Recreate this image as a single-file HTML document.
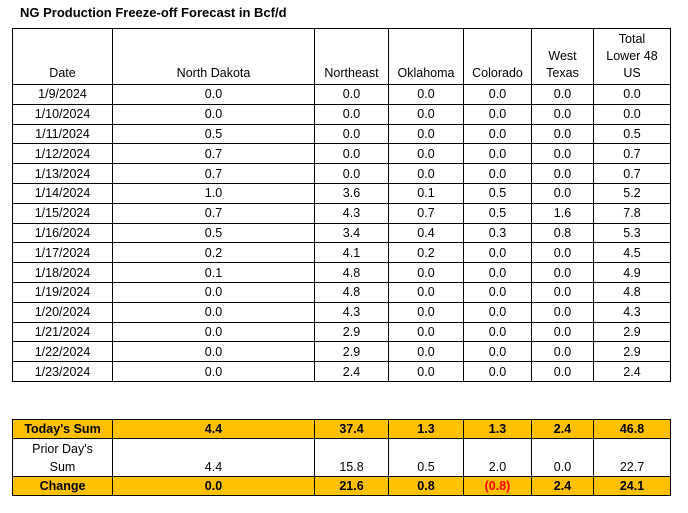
<!DOCTYPE html>
<html><head><style>
body{margin:0;width:688px;height:513px;background:#fff;font-family:"Liberation Sans",Arial,sans-serif;position:relative;overflow:hidden;color:#000}
.t{position:absolute;left:20px;top:5px;font-weight:bold;font-size:13px}
table{position:absolute;left:12px;border-collapse:collapse;table-layout:fixed;font-size:12.5px}
td{border:1px solid #000;text-align:center;padding:0;line-height:14px;overflow:hidden;white-space:nowrap}
.h td{vertical-align:bottom;padding-bottom:2px;line-height:17px}
.b td{height:18.8px}
.y td{background:#ffc000;font-weight:bold;height:18px}
.p td{height:37px;vertical-align:bottom;line-height:18px}
.r{color:#ff0000}
</style></head><body>
<div class="t">NG Production Freeze-off Forecast in Bcf/d</div>
<table style="top:28px">
<colgroup><col style="width:100px"><col style="width:202px"><col style="width:74px"><col style="width:75px"><col style="width:68px"><col style="width:62px"><col style="width:77px"></colgroup>
<tr class="h"><td style="height:53px">Date</td><td>North Dakota</td><td>Northeast</td><td>Oklahoma</td><td>Colorado</td><td>West<br>Texas</td><td>Total<br>Lower 48<br>US</td></tr>
<tr class="b"><td>1/9/2024</td><td>0.0</td><td>0.0</td><td>0.0</td><td>0.0</td><td>0.0</td><td>0.0</td></tr>
<tr class="b"><td>1/10/2024</td><td>0.0</td><td>0.0</td><td>0.0</td><td>0.0</td><td>0.0</td><td>0.0</td></tr>
<tr class="b"><td>1/11/2024</td><td>0.5</td><td>0.0</td><td>0.0</td><td>0.0</td><td>0.0</td><td>0.5</td></tr>
<tr class="b"><td>1/12/2024</td><td>0.7</td><td>0.0</td><td>0.0</td><td>0.0</td><td>0.0</td><td>0.7</td></tr>
<tr class="b"><td>1/13/2024</td><td>0.7</td><td>0.0</td><td>0.0</td><td>0.0</td><td>0.0</td><td>0.7</td></tr>
<tr class="b"><td>1/14/2024</td><td>1.0</td><td>3.6</td><td>0.1</td><td>0.5</td><td>0.0</td><td>5.2</td></tr>
<tr class="b"><td>1/15/2024</td><td>0.7</td><td>4.3</td><td>0.7</td><td>0.5</td><td>1.6</td><td>7.8</td></tr>
<tr class="b"><td>1/16/2024</td><td>0.5</td><td>3.4</td><td>0.4</td><td>0.3</td><td>0.8</td><td>5.3</td></tr>
<tr class="b"><td>1/17/2024</td><td>0.2</td><td>4.1</td><td>0.2</td><td>0.0</td><td>0.0</td><td>4.5</td></tr>
<tr class="b"><td>1/18/2024</td><td>0.1</td><td>4.8</td><td>0.0</td><td>0.0</td><td>0.0</td><td>4.9</td></tr>
<tr class="b"><td>1/19/2024</td><td>0.0</td><td>4.8</td><td>0.0</td><td>0.0</td><td>0.0</td><td>4.8</td></tr>
<tr class="b"><td>1/20/2024</td><td>0.0</td><td>4.3</td><td>0.0</td><td>0.0</td><td>0.0</td><td>4.3</td></tr>
<tr class="b"><td>1/21/2024</td><td>0.0</td><td>2.9</td><td>0.0</td><td>0.0</td><td>0.0</td><td>2.9</td></tr>
<tr class="b"><td>1/22/2024</td><td>0.0</td><td>2.9</td><td>0.0</td><td>0.0</td><td>0.0</td><td>2.9</td></tr>
<tr class="b"><td>1/23/2024</td><td>0.0</td><td>2.4</td><td>0.0</td><td>0.0</td><td>0.0</td><td>2.4</td></tr>
</table>
<table style="top:419px">
<colgroup><col style="width:100px"><col style="width:202px"><col style="width:74px"><col style="width:75px"><col style="width:68px"><col style="width:62px"><col style="width:77px"></colgroup>
<tr class="y"><td>Today's Sum</td><td>4.4</td><td>37.4</td><td>1.3</td><td>1.3</td><td>2.4</td><td>46.8</td></tr>
<tr class="p"><td>Prior Day's<br>Sum</td><td>4.4</td><td>15.8</td><td>0.5</td><td>2.0</td><td>0.0</td><td>22.7</td></tr>
<tr class="y"><td>Change</td><td>0.0</td><td>21.6</td><td>0.8</td><td class="r">(0.8)</td><td>2.4</td><td>24.1</td></tr>
</table>
</body></html>
